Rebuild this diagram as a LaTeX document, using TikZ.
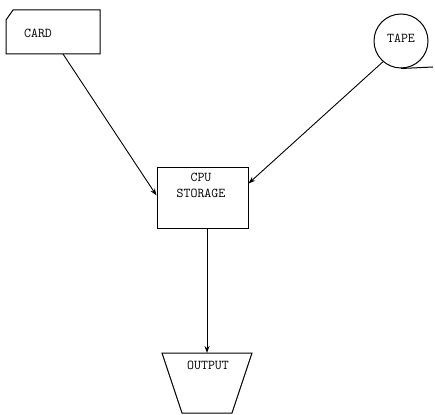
\documentclass[tikz,border=0pt]{standalone}
\usetikzlibrary{calc,arrows.meta}
\begin{document}
\begin{tikzpicture}[x=1pt,y=-1pt,
  lbl/.style={font=\ttfamily\fontsize{13.5}{15}\selectfont, inner sep=0pt},
  box/.style={draw, line width=1pt, inner sep=0pt},
  conn/.style={line width=0.9pt, -{Stealth[length=7pt,width=5pt,open]}}]
\useasboundingbox (0,0) rectangle (435,414);
% card
\draw[line width=1pt] (13,10) -- (100,10) -- (100,54) -- (6,54) -- (6,20) -- cycle;
\coordinate (cardout) at (63,54);
\node[lbl] (card) at (38,33) {CARD};
% tape
\node[box, circle, minimum size=54pt] (tape) at (401,41) {};
\node[lbl] (tapetxt) at (401,38) {TAPE};
\coordinate (tapeend) at (433,67);
\draw[line width=1pt] (tape.south) -- (tapeend);
% cpu
\node[box, rectangle, minimum width=91pt, minimum height=61pt] (cpu) at (202.5,197.5) {};
\node[lbl] (cpu1) at (201,177) {CPU};
\node[lbl] (cpu2) at (201,193) {STORAGE};
% output
\coordinate (outtop) at (207,353);
\draw[line width=1pt] (162,353) -- (252,353) -- (232,413) -- (182,413) -- cycle;
\node[lbl] (output) at (208,365) {OUTPUT};
% connectors
\draw[conn] (cardout) -- ($(cpu.west)+(0,-2)$);
\draw[conn] (tape.229) -- ($(cpu.east)+(0,-14)$);
\draw[conn] ($(cpu.south)+(4.5,0)$) -- (outtop);
\end{tikzpicture}
\end{document}
